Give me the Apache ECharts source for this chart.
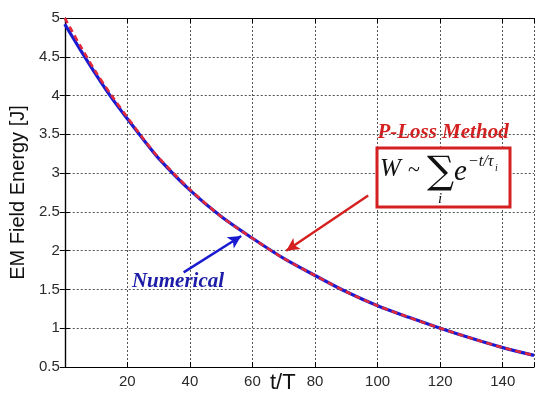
<!DOCTYPE html>
<html><head><meta charset="utf-8">
<script src="https://cdn.jsdelivr.net/npm/echarts@6/dist/echarts.min.js"></script>
<style>html,body{margin:0;padding:0;background:#fff}#c{width:537px;height:399px}</style>
</head><body><div id="c"></div>
<script>
// t/T sample points
const tValues = [0, 5, 10, 15, 20, 25, 30, 40, 50, 60, 70, 80, 90, 100, 110, 120, 130, 140, 150];
// P-Loss Method (red dashed)
const plossValues = [5.0, 4.64, 4.30, 4.00, 3.72, 3.45, 3.20, 2.79, 2.44, 2.16, 1.90, 1.68, 1.47, 1.29, 1.14, 1.00, 0.87, 0.75, 0.65];
// Numerical (blue solid)
const numericalValues = [4.92, 4.59, 4.27, 3.97, 3.70, 3.44, 3.19, 2.78, 2.44, 2.16, 1.90, 1.68, 1.47, 1.29, 1.14, 1.00, 0.87, 0.75, 0.65];
const xTicks = [20, 40, 60, 80, 100, 120, 140];
const yTicks = [0.5, 1, 1.5, 2, 2.5, 3, 3.5, 4, 4.5, 5];
// annotation arrows [tail, head] in data coords
const redArrow = [[97, 2.71], [70.8, 2.0]];
const blueArrow = [[38, 1.72], [56.4, 2.19]];

const chart = echarts.init(document.getElementById('c'));
const gridLine = {show: true, lineStyle: {color: '#555', type: [2, 2], width: 1}};
const lbl = {color: '#2a2a2a', fontSize: 15, fontFamily: 'Liberation Sans, Arial'};
const axLine = {show: true, lineStyle: {color: '#000', width: 1.2}};
const tick = {show: true, inside: true, length: 5, lineStyle: {color: '#000'}};
const serif = 'Liberation Serif, Times New Roman';
chart.setOption({
  animation: false,
  backgroundColor: '#fff',
  grid: {left: 62, right: 0, top: 18, bottom: 32},
  xAxis: [{
    type: 'value', min: 0, max: 150, interval: 20,
    axisLine: axLine, axisTick: tick, splitLine: gridLine,
    axisLabel: Object.assign({margin: 7, formatter: v => xTicks.includes(v) ? String(v) : ''}, lbl)
  }, {
    type: 'value', position: 'top', min: 0, max: 150, interval: 20,
    axisLine: axLine, axisTick: tick, splitLine: {show: false}, axisLabel: {show: false}
  }],
  yAxis: [{
    type: 'value', min: 0.5, max: 5, interval: 0.5,
    axisLine: axLine, axisTick: tick, splitLine: gridLine,
    axisLabel: Object.assign({margin: 5, formatter: v => yTicks.includes(v) ? String(v) : ''}, lbl),
    name: 'EM Field Energy [J]', nameLocation: 'middle', nameGap: 26,
    nameTextStyle: {color: '#111', fontSize: 20, fontFamily: 'Liberation Sans, Arial'}
  }, {
    type: 'value', position: 'right', min: 0.5, max: 5, interval: 0.5,
    axisLine: axLine, axisTick: tick, splitLine: {show: false}, axisLabel: {show: false}
  }],
  series: [{
    name: 'Numerical', type: 'line', smooth: 0.3, showSymbol: false,
    data: tValues.map((t, i) => [t, numericalValues[i]]),
    lineStyle: {color: '#1a1ad0', width: 3.2},
    markLine: {
      silent: true, symbol: ['none', 'arrow'], symbolSize: [10, 13],
      label: {show: false},
      lineStyle: {color: '#1a1ad0', width: 2.4, type: 'solid'},
      data: [[{coord: blueArrow[0]}, {coord: blueArrow[1]}]]
    }
  }, {
    name: 'P-Loss Method', type: 'line', smooth: 0.3, showSymbol: false,
    data: tValues.map((t, i) => [t, plossValues[i]]),
    lineStyle: {color: '#e0283a', width: 2.6, type: [6, 4]},
    markLine: {
      silent: true, symbol: ['none', 'arrow'], symbolSize: [10, 13],
      label: {show: false},
      lineStyle: {color: '#d42020', width: 2.4, type: 'solid'},
      data: [[{coord: redArrow[0]}, {coord: redArrow[1]}]]
    }
  }],
  graphic: [
    {type: 'text', left: 270, top: 372, style: {text: 't/T', fontSize: 22, fontFamily: 'Liberation Sans, Arial', fill: '#111'}},
    {type: 'text', x: 443, y: 133, style: {text: 'P-Loss Method', align: 'center', verticalAlign: 'middle', fontSize: 21, fontWeight: 'bold', fontStyle: 'italic', fontFamily: serif, fill: '#d42020', backgroundColor: '#fff', padding: [2, 6]}},
    {type: 'text', x: 178, y: 282, style: {text: 'Numerical', align: 'center', verticalAlign: 'middle', fontSize: 21, fontWeight: 'bold', fontStyle: 'italic', fontFamily: serif, fill: '#1c1ca8', backgroundColor: '#fff', padding: [6, 8]}},
    {type: 'rect', shape: {x: 377, y: 148, width: 133, height: 59}, style: {fill: '#fff', stroke: '#d42020', lineWidth: 3}, z: 100},
    {type: 'text', x: 380, y: 169, z: 101, style: {text: 'W', verticalAlign: 'middle', fontSize: 25, fontStyle: 'italic', fontFamily: serif, fill: '#111'}},
    {type: 'text', x: 408, y: 170, z: 101, style: {text: '~', verticalAlign: 'middle', fontSize: 22, fontFamily: serif, fill: '#111'}},
    {type: 'text', x: 427, y: 173, z: 101, style: {text: '∑', verticalAlign: 'middle', fontSize: 38, fontFamily: 'DejaVu Serif, Liberation Serif', fill: '#111'}},
    {type: 'text', x: 438, y: 199, z: 101, style: {text: 'i', verticalAlign: 'middle', fontSize: 15, fontStyle: 'italic', fontFamily: serif, fill: '#111'}},
    {type: 'text', x: 454, y: 172, z: 101, style: {text: 'e', verticalAlign: 'middle', fontSize: 29, fontStyle: 'italic', fontFamily: serif, fill: '#111'}},
    {type: 'text', x: 468, y: 162, z: 101, style: {text: '−t/τ', verticalAlign: 'middle', fontSize: 16, fontStyle: 'italic', fontFamily: serif, fill: '#111'}},
    {type: 'text', x: 495, y: 168, z: 101, style: {text: 'i', verticalAlign: 'middle', fontSize: 10, fontStyle: 'italic', fontFamily: serif, fill: '#111'}}
  ]
});
</script></body></html>
